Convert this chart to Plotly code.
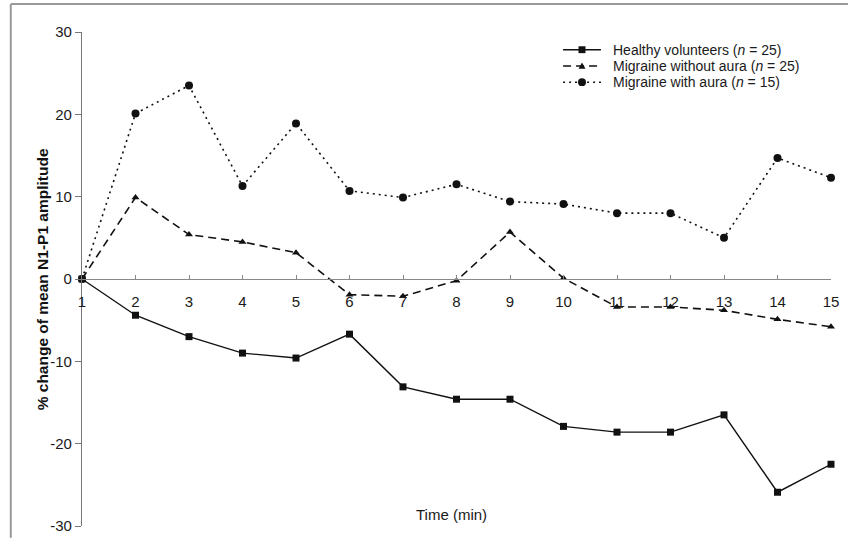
import plotly.graph_objects as go

time_min = list(range(1, 16))
healthy = [0, -4.4, -7.0, -9.0, -9.6, -6.7, -13.1, -14.6, -14.6, -17.9, -18.6, -18.6, -16.5, -25.9, -22.5]
without_aura = [0, 9.9, 5.4, 4.5, 3.2, -1.9, -2.1, -0.2, 5.7, 0.1, -3.4, -3.4, -3.8, -4.9, -5.8]
with_aura = [0, 20.1, 23.5, 11.3, 18.9, 10.7, 9.9, 11.5, 9.4, 9.1, 8.0, 8.0, 5.0, 14.7, 12.3]
series_names = ["Healthy volunteers (<i>n</i> = 25)",
                "Migraine without aura (<i>n</i> = 25)",
                "Migraine with aura (<i>n</i> = 15)"]
y_ticks = [-30, -20, -10, 0, 10, 20, 30]
y_tick_labels = ["-30", "-20", "-10", "0", "10", "20", "30"]

FONT = "Liberation Sans, Arial, Helvetica, sans-serif"
INK = "#111"
styles = [
    dict(dash="solid", width=1.4, symbol="square", size=7),
    dict(dash="8px,5px", width=1.6, symbol="triangle-up", size=7),
    dict(dash="2px,4px", width=1.6, symbol="circle", size=8),
]

fig = go.Figure()
for name, ys, st in zip(series_names, [healthy, without_aura, with_aura], styles):
    fig.add_trace(go.Scatter(
        x=time_min, y=ys, mode="lines+markers", name=name,
        line=dict(color=INK, width=st["width"], dash=st["dash"]),
        marker=dict(symbol=st["symbol"], size=st["size"], color=INK),
        cliponaxis=False, showlegend=False))

fig.update_layout(
    width=851, height=546,
    margin=dict(l=82, r=17, t=32, b=12),
    paper_bgcolor="white", plot_bgcolor="white",
    font=dict(family=FONT, size=14, color="#1a1a1a"),
    xaxis=dict(range=[1, 15], tickmode="array", tickvals=time_min,
               ticktext=[str(t) for t in time_min],
               anchor="free", position=0.5,
               showline=True, linecolor="#888", linewidth=1.2,
               ticks="inside", ticklen=4, tickcolor="#888",
               ticklabelstandoff=9,
               showgrid=False, zeroline=False,
               tickfont=dict(family=FONT, size=15, color="#1a1a1a")),
    yaxis=dict(range=[-30, 30], tickmode="array", tickvals=y_ticks, ticktext=y_tick_labels,
               showline=True, linecolor="#777", linewidth=1.2,
               ticks="outside", ticklen=6, tickcolor="#777",
               showgrid=False, zeroline=False,
               tickfont=dict(family=FONT, size=15, color="#1a1a1a")),
)

# manual legend (pixel -> paper helpers)
PL, PW, PT, PH = 82, 752, 32, 502
def px(x):
    return (x - PL) / PW
def py(y):
    return 1 - (y - PT) / PH

legend_rows = [50, 66.5, 83]
for name, st, ry in zip(series_names, styles, legend_rows):
    fig.add_shape(type="line", xref="paper", yref="paper",
                  x0=px(565), x1=px(603), y0=py(ry), y1=py(ry),
                  line=dict(color=INK, width=st["width"], dash=st["dash"]))
    mx, h = 584, st["size"] / 2
    if st["symbol"] == "square":
        fig.add_shape(type="rect", xref="paper", yref="paper",
                      x0=px(mx - h), x1=px(mx + h), y0=py(ry - h), y1=py(ry + h),
                      line=dict(width=0), fillcolor=INK)
    elif st["symbol"] == "circle":
        fig.add_shape(type="circle", xref="paper", yref="paper",
                      x0=px(mx - h), x1=px(mx + h), y0=py(ry - h), y1=py(ry + h),
                      line=dict(width=0), fillcolor=INK)
    else:
        fig.add_shape(type="path", xref="paper", yref="paper",
                      path=f"M {px(mx - h)} {py(ry + h * 0.8)} L {px(mx + h)} {py(ry + h * 0.8)} L {px(mx)} {py(ry - h)} Z",
                      line=dict(width=0), fillcolor=INK)
    fig.add_annotation(text=name, xref="paper", yref="paper", x=px(613), y=py(ry),
                       xanchor="left", yanchor="middle", showarrow=False,
                       font=dict(family=FONT, size=14, color="#1a1a1a"))

fig.add_annotation(text="<b>% change of mean N1-P1 amplitude</b>", xref="paper", yref="paper",
                   x=-0.053, y=0.5, textangle=-90, showarrow=False,
                   font=dict(family=FONT, size=15.5, color=INK), xanchor="center", yanchor="middle")
fig.add_annotation(text="Time (min)", xref="paper", yref="paper",
                   x=0.493, y=0.0225, showarrow=False,
                   font=dict(family=FONT, size=15, color="#1a1a1a"), xanchor="center", yanchor="middle")

# outer frame: only left and top edges fall inside the picture
fig.add_shape(type="line", xref="paper", yref="paper",
              x0=px(10.5), x1=px(851), y0=py(3.5), y1=py(3.5),
              line=dict(color="#999", width=2), layer="below")
fig.add_shape(type="line", xref="paper", yref="paper",
              x0=px(10.5), x1=px(10.5), y0=py(3.5), y1=py(546),
              line=dict(color="#999", width=2), layer="below")

fig.write_html("out.html")
